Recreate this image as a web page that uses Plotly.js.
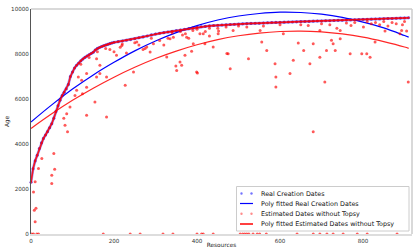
<!DOCTYPE html>
<html>
<head>
<meta charset="utf-8">
<script src="https://cdn.plot.ly/plotly-3.0.1.min.js"></script>
<style>html,body{margin:0;padding:0;background:#fff;}#chart{width:415px;height:251px;}</style>
</head>
<body>
<div id="chart"></div>
<script>
// ---- Data ----
// Real creation dates: one point per sampled resource index
const realX = [0,5,10,15,20,25,30,35,40,45,50,55,60,65,70,75,80,85,90,95,100,105,110,115,120,125,130,135,140,145,150,155,160,165,170,175,180,185,190,195,200,
  210,220,230,240,250,260,270,280,290,300,310,320,330,340,350,360,370,380,390,400,410,420,430,440,450,460,470,480,490,500,510,520,530,540,550,560,570,580,590,600,610,620,630,640,650,660,670,680,690,700,710,720,730,740,750,760,770,780,790,800,810,820,830,840,850,860,870,880,890,900,910];
const realY = [2300,2900,3250,3500,3800,4050,4250,4400,4550,4720,4900,5150,5450,5700,5950,6150,6300,6450,6650,7000,7200,7380,7500,7600,7700,7780,7850,7910,7970,8020,8080,8180,8250,8290,8330,8370,8400,8430,8460,8490,8520,
  8550,8580,8610,8640,8680,8720,8760,8800,8850,8890,8920,8950,8980,9010,9040,9070,9100,9130,9160,9190,9210,9230,9250,9265,9280,9290,9300,9310,9320,9330,9340,9350,9360,9365,9370,9380,9390,9400,9405,9410,9415,9420,9425,9430,9440,9445,9450,9460,9465,9470,9475,9480,9490,9495,9500,9510,9515,9520,9530,9540,9545,9550,9555,9560,9570,9575,9580,9590,9595,9600,9610];

// Estimated dates that differ from the real ones (the rest coincide with realX/realY)
const estOffX = [2,6,14,18,174,239,263,318,342,400,415,411,439,504,510,515,520,525,535,545,551,567,641,680,696,713,728,752,786,810,882,
  10,8,12,6,10,18,26,50,50,57,55,88,82,86,79,106,122,124,134,182,227,154,166,114,158,206,247,279,295,351,359,399,343,372,391,407,166,182,134,110,158,94,134,
  190,200,215,230,260,270,310,320,330,365,380,420,430,
  480,524,588,590,590,624,632,672,708,439,475,568,556,644,657,680,696,712,724,728,733,745,769,797,809,817,909,905,889,680,415,419,452,487,552,608,696,745,801,853,
  829,893,327,349,363,371,387,401,472,219,255,275,287,335,375,451,668,737,771,
  820,840,860,870,880,895,900,850,830,810,780,760,700,720,650,600,560,520,500,470,450,430,400,390,360,340,290,250,220,180,160,140,120];
const estOffY = [0,0,0,0,0,0,0,0,0,0,0,0,0,0,0,0,0,0,0,0,0,0,0,0,0,0,0,0,0,0,0,
  540,1060,1150,1870,2320,2910,3360,2610,2240,2880,3580,4540,4830,5350,5150,6160,6830,6230,5280,5200,6610,5870,7130,6980,7790,7940,7200,8310,8460,7270,7640,7200,8750,8900,8460,8900,7500,6980,7130,6390,6980,5650,6520,
  8200,8100,8300,8050,8400,8200,8600,8400,8700,8850,8700,9000,8800,
  7350,7790,7570,6980,6530,7130,7720,7570,6760,8310,8010,8160,8530,8490,8160,8460,7860,8160,8610,8460,8160,8680,8010,8010,8010,7860,6760,9020,8900,4540,8900,8460,9020,9050,9050,8900,9050,9050,9200,9020,
  8530,9050,7870,7470,7500,7940,8120,7160,8020,8380,8530,8240,8090,8680,8750,8900,9270,9150,9270,
  9350,9300,9250,9400,9350,9300,9450,9450,9400,9450,9400,9380,9350,9300,9300,9300,9250,9200,9250,9200,9150,9150,9100,9050,9000,8950,8700,8500,8450,8250,8100,7850,7550];

// Polynomial fits, values
const fitX = [0,50,100,150,200,250,300,350,400,450,500,550,600,650,700,750,800,850,900,910];
const fitRealY = [4980,5740,6440,7070,7630,8140,8580,8950,9260,9510,9690,9800,9860,9845,9770,9630,9420,9160,8820,8750];
const fitEstY = [4690,5340,5940,6480,6970,7410,7800,8130,8410,8640,8810,8930,9000,9020,8980,8890,8750,8550,8310,8250];

const seriesNames = ["Real Creation Dates","Poly fitted Real Creation Dates","Estimated Dates without Topsy","Poly fitted Estimated Dates without Topsy"];
const xTicks = [0,200,400,600,800];
const yTicks = [0,2000,4000,6000,8000,10000];

// ---- Chart ----
const W = 415, H = 251;
const M = {l:31, r:3, t:9, b:17};
const PW = W - M.l - M.r, PH = H - M.t - M.b;
const px2x = p => (p - M.l) / PW;
const px2y = p => (H - M.b - p) / PH;
const FONT = "DejaVu Sans, Liberation Sans, sans-serif";

const traces = [
  // real dates: dense dots rendered as a soft band of markers
  {x: realX, y: realY, mode: "lines+markers", type: "scatter", name: seriesNames[0],
   line: {color: "rgba(40,40,255,0.45)", width: 2.8},
   marker: {color: "rgba(0,0,255,0.55)", size: 3.1, line: {width: 0}}, showlegend: false, cliponaxis: false},
  {x: fitX, y: fitRealY, mode: "lines", type: "scatter", name: seriesNames[1],
   line: {color: "#0000ff", width: 1.2, shape: "spline", smoothing: 1}, showlegend: false},
  // estimated dates coinciding with real ones
  {x: realX, y: realY, mode: "lines+markers", type: "scatter", name: seriesNames[2],
   line: {color: "rgba(255,0,0,0.85)", width: 1.7},
   marker: {color: "rgba(255,0,0,0.55)", size: 2.4, line: {width: 0}}, showlegend: false, cliponaxis: false},
  // estimated dates differing from real ones
  {x: estOffX, y: estOffY, mode: "markers", type: "scatter", name: seriesNames[2],
   marker: {color: "rgba(255,0,0,0.65)", size: 3, line: {width: 0}}, showlegend: false, cliponaxis: false},
  {x: fitX, y: fitEstY, mode: "lines", type: "scatter", name: seriesNames[3],
   line: {color: "rgba(255,0,0,0.85)", width: 1.2, shape: "spline", smoothing: 1}, showlegend: false}
];

// Manual legend (box, samples, labels) in pixel positions
const lgL = 236.5, lgR = 409, lgT = 186.5, lgB = 231;
const rowY = [193.5, 203.5, 213.7, 224];
const shapes = [
  {type: "line", xref: "paper", yref: "paper", x0: 0, x1: 1, y0: 1, y1: 1, line: {color: "#cccccc", width: 1.5}},
  {type: "line", xref: "paper", yref: "paper", x0: 1, x1: 1, y0: 0, y1: 1, line: {color: "#cccccc", width: 1.5}},
  {type: "rect", xref: "paper", yref: "paper", x0: px2x(lgL), x1: px2x(lgR), y0: px2y(lgB), y1: px2y(lgT),
   line: {color: "#cccccc", width: 1}, fillcolor: "rgba(255,255,255,0.85)", layer: "above"},
  {type: "line", xref: "paper", yref: "paper", x0: px2x(240), x1: px2x(253), y0: px2y(rowY[1]), y1: px2y(rowY[1]),
   line: {color: "#0000ff", width: 1.2}, layer: "above"},
  {type: "line", xref: "paper", yref: "paper", x0: px2x(240), x1: px2x(253), y0: px2y(rowY[3]), y1: px2y(rowY[3]),
   line: {color: "#ff0000", width: 1.5}, layer: "above"}
];
[[rowY[0], "rgba(0,0,255,0.55)"], [rowY[2], "rgba(255,0,0,0.45)"]].forEach(([ry, c]) => {
  [241.5, 251.5].forEach(cx => {
    shapes.push({type: "circle", xref: "paper", yref: "paper", xsizemode: "pixel", ysizemode: "pixel",
      xanchor: px2x(cx), yanchor: px2y(ry), x0: -1.2, x1: 1.2, y0: -1.2, y1: 1.2,
      fillcolor: c, line: {width: 0}, layer: "above"});
  });
});
const annotations = seriesNames.map((t, i) => ({
  text: t, xref: "paper", yref: "paper", x: px2x(259), y: px2y(rowY[i]), xanchor: "left", yanchor: "middle",
  showarrow: false, font: {family: FONT, size: 6.4, color: "#111"}
}));

const layout = {
  width: W, height: H,
  margin: M,
  paper_bgcolor: "#ffffff", plot_bgcolor: "#ffffff",
  showlegend: false,
  font: {family: FONT, size: 5.6, color: "#333"},
  xaxis: {range: [0, 918], tickvals: xTicks, ticktext: xTicks.map(String), showgrid: false, zeroline: false,
    showline: true, linecolor: "#dddddd", linewidth: 2, ticks: "", tickfont: {size: 5.6, color: "#333"},
    title: {text: "Resources", font: {size: 5.8, color: "#222"}, standoff: 0}, automargin: false},
  yaxis: {range: [0, 10000], tickvals: yTicks, ticktext: yTicks.map(String), showgrid: false, zeroline: false,
    showline: true, linecolor: "#555555", linewidth: 1, ticks: "", tickfont: {size: 5.6, color: "#333"},
    title: {text: "Age", font: {size: 5.8, color: "#222"}, standoff: 1}, automargin: false},
  shapes: shapes,
  annotations: annotations
};

Plotly.newPlot("chart", traces, layout, {displayModeBar: false, staticPlot: true});
</script>
</body>
</html>
